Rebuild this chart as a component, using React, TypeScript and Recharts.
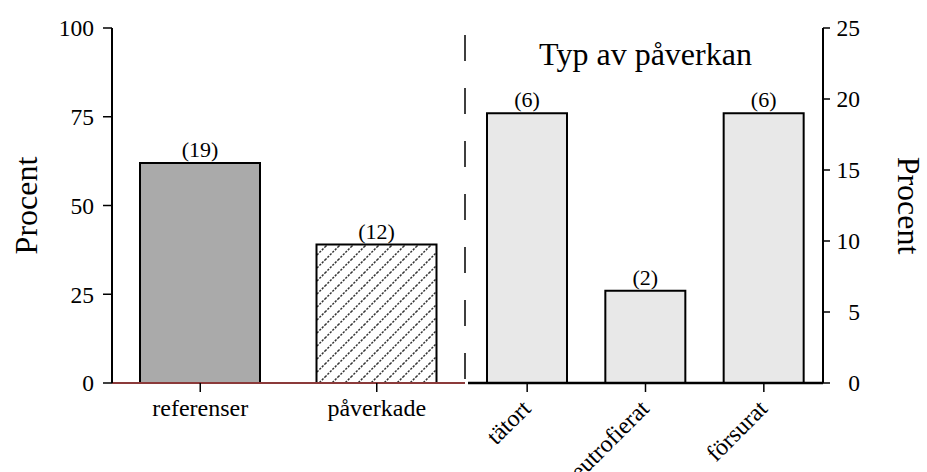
import React from 'react';
import { BarChart, Bar, XAxis, YAxis, Cell, LabelList, Label } from 'recharts';

// ---- data ----
const groupCategories = ['referenser', 'påverkade'];
const groupPercent = [62, 39];
const groupCounts = [19, 12];

const typeCategories = ['tätort', 'eutrofierat', 'försurat'];
const typePercent = [19, 6.5, 19];
const typeCounts = [6, 2, 6];

const leftTicks = [0, 25, 50, 75, 100];
const rightTicks = [0, 5, 10, 15, 20, 25];

const leftAxisTitle = 'Procent';
const rightAxisTitle = 'Procent';
const typeTitle = 'Typ av påverkan';

const FONT = '"Liberation Serif", "Times New Roman", Times, serif';
const W = 927;
const H = 472;

const groupData = groupCategories.map((name, i) => ({ name, value: groupPercent[i], count: groupCounts[i] }));
const typeData = typeCategories.map((name, i) => ({ name, value: typePercent[i], count: typeCounts[i] }));

const RotatedTick = (props: any) => {
  const { x, y, payload } = props;
  const ax = x + 5;
  const ay = y + 11;
  return (
    <text x={ax} y={ay} transform={`rotate(-45 ${ax} ${ay})`} textAnchor="end" fontFamily={FONT} fontSize={24} fill="#000">
      {payload.value}
    </text>
  );
};

const RightTick = (props: any) => {
  const { x, y, payload } = props;
  return (
    <text x={x + 25} y={y} dy="0.355em" textAnchor="end" fontFamily={FONT} fontSize={23.5} fill="#000">
      {payload.value}
    </text>
  );
};

const LeftTick = (props: any) => {
  const { x, y, payload } = props;
  return (
    <text x={x} y={y} dy="0.355em" textAnchor="end" fontFamily={FONT} fontSize={23.5} fill="#000">
      {payload.value}
    </text>
  );
};

const makeAxisTitle = (dx: number, angle: number) => (props: any) => {
  const { viewBox, value } = props;
  const cx = viewBox.x + dx;
  const cy = viewBox.y + viewBox.height / 2;
  return (
    <text x={cx} y={cy} transform={`rotate(${angle} ${cx} ${cy})`} textAnchor="middle" dominantBaseline="central" fontFamily={FONT} fontSize={32} fill="#000">
      {value}
    </text>
  );
};

const countFormatter = (v: any) => `(${v})`;

export default function App() {
  return (
    <div style={{ position: 'absolute', left: 0, top: 0, width: W, height: H, background: '#fff' }}>
      <div style={{ position: 'absolute', left: 0, top: 0 }}>
        <BarChart width={W} height={H} data={groupData} margin={{ top: 28, right: 461, bottom: 0, left: 0 }}>
          <defs>
            <pattern id="hatch" patternUnits="userSpaceOnUse" width={13} height={13}>
              <rect x={0} y={0} width={13} height={13} fill="#fff" />
              <path d="M0,13 L13,0 M-3,3 L3,-3 M10,16 L16,10" stroke="#333" strokeWidth={1.5} strokeDasharray="2.2 1.3" />
            </pattern>
          </defs>
          <XAxis
            dataKey="name"
            height={89}
            interval={0}
            tickSize={9}
            tickMargin={7}
            axisLine={{ stroke: '#8b3a3a', strokeWidth: 2 }}
            tickLine={{ stroke: '#000', strokeWidth: 1.5 }}
            tick={{ fill: '#000', fontSize: 24, fontFamily: FONT }}
          />
          <YAxis
            yAxisId="l"
            width={112}
            domain={[0, 100]}
            ticks={leftTicks}
            tickSize={9}
            tickMargin={9}
            axisLine={{ stroke: '#000', strokeWidth: 2 }}
            tickLine={{ stroke: '#000', strokeWidth: 1.5 }}
            tick={<LeftTick />}
          >
            <Label value={leftAxisTitle} content={makeAxisTitle(26, -90)} />
          </YAxis>
          <YAxis
            yAxisId="dash"
            orientation="right"
            width={1}
            domain={[0, 100]}
            tick={false}
            tickLine={false}
            axisLine={{ stroke: '#000', strokeWidth: 1.5, strokeDasharray: '26 27', strokeDashoffset: 46 }}
          />
          <Bar yAxisId="l" dataKey="value" barSize={120} stroke="#000" strokeWidth={2} isAnimationActive={false}>
            {groupData.map((d, i) => (
              <Cell key={d.name} fill={i === 0 ? '#aaaaaa' : 'url(#hatch)'} />
            ))}
            <LabelList dataKey="count" position="top" offset={6} formatter={countFormatter} fill="#000" fontSize={22} fontFamily={FONT} />
          </Bar>
        </BarChart>
      </div>
      <div style={{ position: 'absolute', left: 0, top: 0 }}>
        <BarChart width={W} height={H} data={typeData} margin={{ top: 28, right: 0, bottom: 0, left: 468 }}>
          <XAxis
            dataKey="name"
            height={89}
            interval={0}
            tickSize={9}
            tickMargin={7}
            axisLine={{ stroke: '#000', strokeWidth: 2.5 }}
            tickLine={{ stroke: '#000', strokeWidth: 1.5 }}
            tick={<RotatedTick />}
          />
          <YAxis
            orientation="right"
            width={104}
            domain={[0, 25]}
            ticks={rightTicks}
            tickSize={7}
            tickMargin={5}
            axisLine={{ stroke: '#000', strokeWidth: 2 }}
            tickLine={{ stroke: '#000', strokeWidth: 1.5 }}
            tick={<RightTick />}
          >
            <Label value={rightAxisTitle} content={makeAxisTitle(86, 90)} />
          </YAxis>
          <Bar dataKey="value" barSize={80} fill="#e8e8e8" stroke="#000" strokeWidth={2} isAnimationActive={false}>
            <LabelList dataKey="count" position="top" offset={6} formatter={countFormatter} fill="#000" fontSize={22} fontFamily={FONT} />
          </Bar>
        </BarChart>
      </div>
      <svg width={W} height={H} style={{ position: 'absolute', left: 0, top: 0, pointerEvents: 'none' }}>
        <text x={645.5} y={65} textAnchor="middle" fontFamily={FONT} fontSize={32} fill="#000">
          {typeTitle}
        </text>
      </svg>
    </div>
  );
}
